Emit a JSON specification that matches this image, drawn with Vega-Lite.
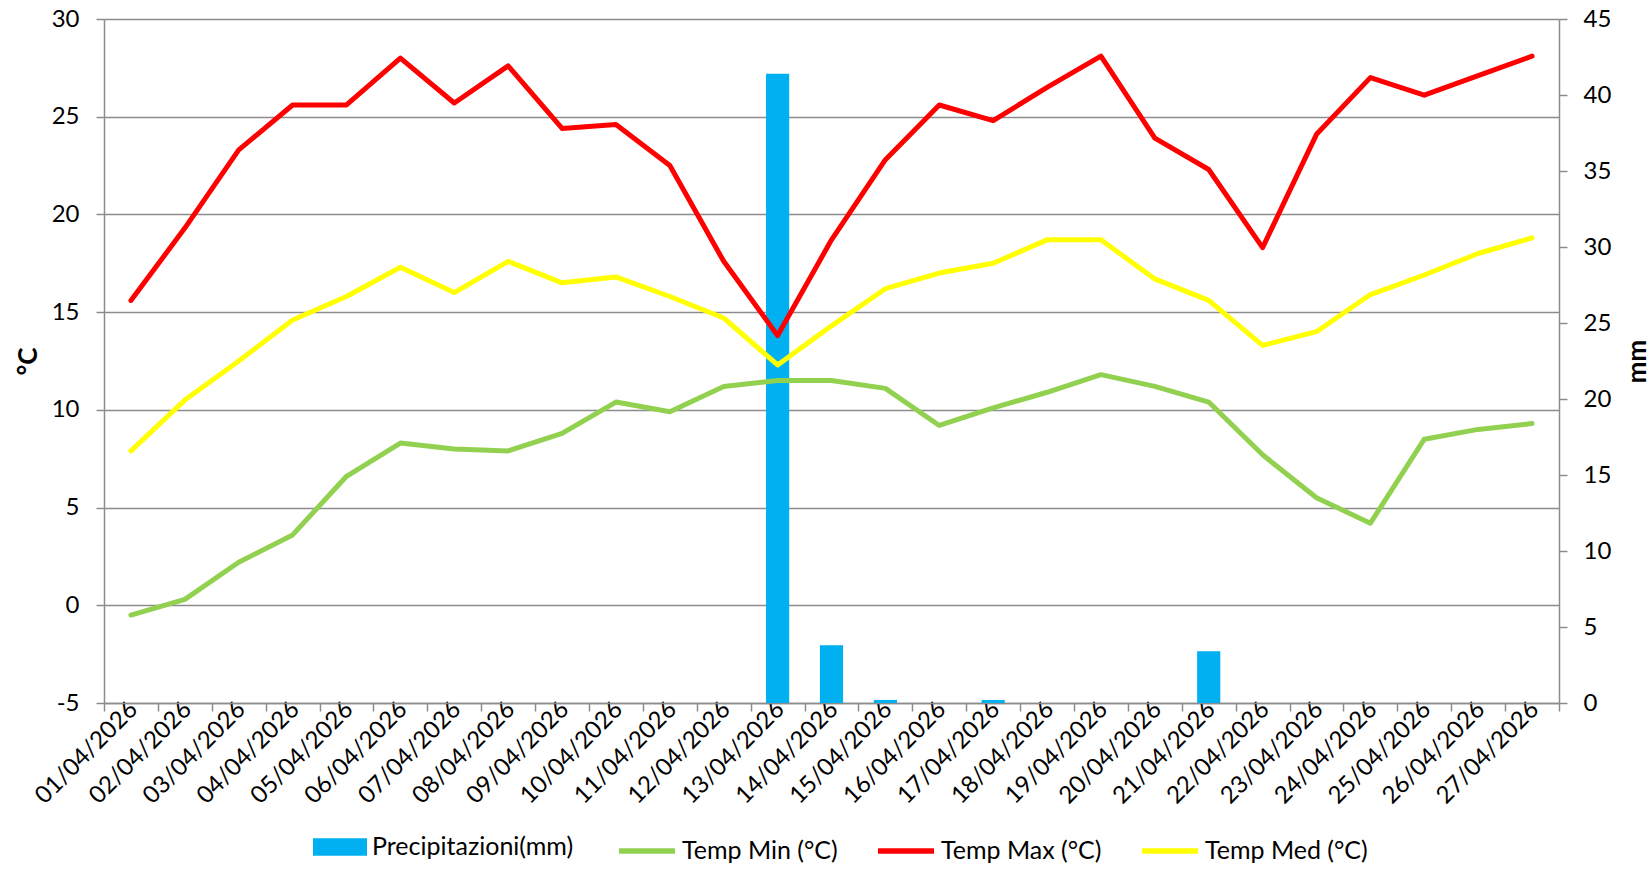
{
  "$schema": "https://vega.github.io/schema/vega-lite/v6.json",
  "width": 1455,
  "height": 684,
  "autosize": {"type": "none"},
  "padding": {"left": 104, "top": 19, "right": 93, "bottom": 169},
  "background": "white",
  "config": {
    "font": "Lato",
    "view": {"stroke": null},
    "axis": {
      "labelFont": "Lato",
      "labelFontSize": 24,
      "labelColor": "#000000",
      "domainColor": "#8c8c8c",
      "domainWidth": 1.5,
      "tickColor": "#8c8c8c",
      "tickWidth": 1.5,
      "tickSize": 8,
      "titleFont": "Lato",
      "titleColor": "#000000"
    },
    "legend": {
      "labelFont": "Lato",
      "labelFontSize": 25,
      "labelColor": "#000000",
      "labelLimit": 400
    }
  },
  "data": {
    "values": [
      {"date": "01/04/2026", "tmin": -0.5, "tmax": 15.6, "tmed": 7.9, "prec": 0},
      {"date": "02/04/2026", "tmin": 0.3, "tmax": 19.3, "tmed": 10.5, "prec": 0},
      {"date": "03/04/2026", "tmin": 2.2, "tmax": 23.3, "tmed": 12.5, "prec": 0},
      {"date": "04/04/2026", "tmin": 3.6, "tmax": 25.6, "tmed": 14.6, "prec": 0},
      {"date": "05/04/2026", "tmin": 6.6, "tmax": 25.6, "tmed": 15.8, "prec": 0},
      {"date": "06/04/2026", "tmin": 8.3, "tmax": 28.0, "tmed": 17.3, "prec": 0},
      {"date": "07/04/2026", "tmin": 8.0, "tmax": 25.7, "tmed": 16.0, "prec": 0},
      {"date": "08/04/2026", "tmin": 7.9, "tmax": 27.6, "tmed": 17.6, "prec": 0},
      {"date": "09/04/2026", "tmin": 8.8, "tmax": 24.4, "tmed": 16.5, "prec": 0},
      {"date": "10/04/2026", "tmin": 10.4, "tmax": 24.6, "tmed": 16.8, "prec": 0},
      {"date": "11/04/2026", "tmin": 9.9, "tmax": 22.5, "tmed": 15.8, "prec": 0},
      {"date": "12/04/2026", "tmin": 11.2, "tmax": 17.6, "tmed": 14.7, "prec": 0},
      {"date": "13/04/2026", "tmin": 11.5, "tmax": 13.8, "tmed": 12.3, "prec": 41.4},
      {"date": "14/04/2026", "tmin": 11.5, "tmax": 18.7, "tmed": 14.3, "prec": 3.8},
      {"date": "15/04/2026", "tmin": 11.1, "tmax": 22.8, "tmed": 16.2, "prec": 0.2},
      {"date": "16/04/2026", "tmin": 9.2, "tmax": 25.6, "tmed": 17.0, "prec": 0},
      {"date": "17/04/2026", "tmin": 10.1, "tmax": 24.8, "tmed": 17.5, "prec": 0.2},
      {"date": "18/04/2026", "tmin": 10.9, "tmax": 26.5, "tmed": 18.7, "prec": 0},
      {"date": "19/04/2026", "tmin": 11.8, "tmax": 28.1, "tmed": 18.7, "prec": 0},
      {"date": "20/04/2026", "tmin": 11.2, "tmax": 23.9, "tmed": 16.7, "prec": 0},
      {"date": "21/04/2026", "tmin": 10.4, "tmax": 22.3, "tmed": 15.6, "prec": 3.4},
      {"date": "22/04/2026", "tmin": 7.7, "tmax": 18.3, "tmed": 13.3, "prec": 0},
      {"date": "23/04/2026", "tmin": 5.5, "tmax": 24.1, "tmed": 14.0, "prec": 0},
      {"date": "24/04/2026", "tmin": 4.2, "tmax": 27.0, "tmed": 15.9, "prec": 0},
      {"date": "25/04/2026", "tmin": 8.5, "tmax": 26.1, "tmed": 16.9, "prec": 0},
      {"date": "26/04/2026", "tmin": 9.0, "tmax": 27.1, "tmed": 18.0, "prec": 0},
      {"date": "27/04/2026", "tmin": 9.3, "tmax": 28.1, "tmed": 18.8, "prec": 0}
    ]
  },
  "layer": [
    {
      "mark": {"type": "bar", "width": {"band": 0.43}},
      "encoding": {
        "x": {
          "field": "date", "type": "ordinal", "sort": null,
          "scale": {"type": "band", "paddingInner": 0, "paddingOuter": 0},
          "axis": {"title": null, "labelAngle": -45, "labelAlign": "right", "labelBaseline": "top", "tickBand": "extent", "grid": false, "labelPadding": -14, "labelOffset": -6}
        },
        "y": {
          "field": "prec", "type": "quantitative",
          "scale": {"domain": [0, 45], "nice": false, "zero": true},
          "axis": {
            "orient": "right", "title": "mm", "titleFontSize": 26, "titleFontWeight": "bold",
            "titleAngle": -90, "titlePadding": 40, "values": [0, 5, 10, 15, 20, 25, 30, 35, 40, 45],
            "grid": false, "labelPadding": 16
          }
        },
        "fill": {
          "datum": "Precipitazioni(mm)",
          "scale": {"range": ["#00B0F0"]},
          "legend": {
            "orient": "none", "legendX": 209, "legendY": 801, "title": null,
            "symbolType": "M-1,-0.32H1V0.32H-1Z", "symbolSize": 2916, "symbolStrokeWidth": 0,
            "symbolFillColor": "#00B0F0", "labelOffset": 5
          }
        }
      }
    },
    {
      "transform": [{"fold": ["tmin", "tmax", "tmed"], "as": ["serie", "temp"]}],
      "mark": {"type": "line", "strokeWidth": 5, "strokeJoin": "round", "strokeCap": "round"},
      "encoding": {
        "x": {"field": "date", "type": "ordinal", "sort": null},
        "y": {
          "field": "temp", "type": "quantitative",
          "scale": {"domain": [-5, 30], "nice": false, "zero": false},
          "axis": {
            "orient": "left", "title": "°C", "titleFontSize": 26, "titleFontWeight": "bold",
            "titlePadding": 10, "values": [-5, 0, 5, 10, 15, 20, 25, 30],
            "labelExpr": "datum.value < 0 ? '-' + abs(datum.value) : '' + datum.value",
            "grid": true, "gridColor": "#8c8c8c", "gridWidth": 1.5, "labelPadding": 17
          }
        },
        "stroke": {
          "field": "serie", "type": "nominal",
          "scale": {"domain": ["tmin", "tmax", "tmed"], "range": ["#92D050", "#FF0000", "#FFFF00"]},
          "legend": {
            "orient": "none", "direction": "horizontal", "legendX": 512, "legendY": 801, "title": null,
            "symbolType": "stroke", "symbolSize": 3136, "symbolStrokeWidth": 5.5,
            "labelOffset": 4, "columnPadding": 29,
            "labelExpr": "datum.value === 'tmin' ? 'Temp Min (°C)' : datum.value === 'tmax' ? 'Temp Max (°C)' : 'Temp Med (°C)'"
          }
        }
      }
    }
  ],
  "resolve": {"scale": {"y": "independent"}, "axis": {"y": "independent"}}
}
